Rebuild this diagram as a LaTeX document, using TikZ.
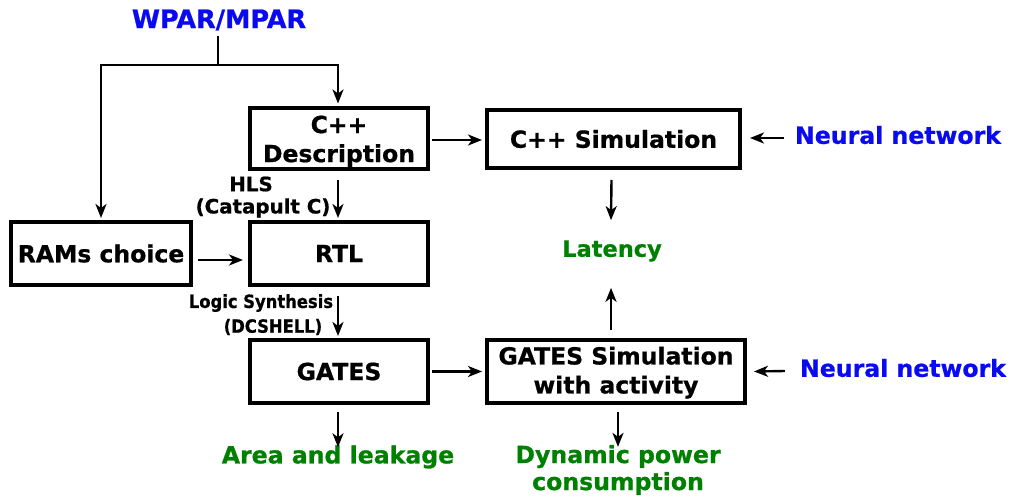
\documentclass[tikz,border=0pt]{standalone}
\usepackage{fontspec}
\setmainfont{DejaVu Sans}[BoldFeatures={FakeBold=0.8}]
\newfontfamily\condfont{DejaVu Sans Condensed}[BoldFeatures={FakeBold=0.8}]
\usetikzlibrary{arrows.meta,calc}
\definecolor{nnblue}{RGB}{10,10,240}
\definecolor{resgreen}{RGB}{0,128,0}
\begin{document}
\begin{tikzpicture}[x=1pt,y=-1pt,
  box/.style={draw,line width=4pt,align=center,inner sep=0pt,
    font=\bfseries\fontsize{23.5}{29}\selectfont},
  arr/.style={line width=2.4pt,-{Stealth[length=14pt,width=11pt,inset=4pt]}},
  inlab/.style={text=nnblue,font=\bfseries\fontsize{23.6}{29}\selectfont,inner sep=0pt},
  outlab/.style={text=resgreen,font=\bfseries\fontsize{23.6}{27}\selectfont,inner sep=0pt,align=center},
  steplab/.style={font=\bfseries\fontsize{19.8}{23}\selectfont,inner sep=0pt},
  condlab/.style={font=\condfont\bfseries\fontsize{18.2}{23}\selectfont,inner sep=0pt}]
\useasboundingbox (0,0) rectangle (1012,497);
% nodes
\node[inlab,font=\bfseries\fontsize{25.5}{29}\selectfont] (wpar) at (219,20) {WPAR/MPAR};
\node[box,minimum width=178pt,minimum height=61pt] (cdesc) at (339,139) {\rule{0pt}{22pt}C++\\Description};
\node[box,minimum width=253pt,minimum height=58pt] (csim) at (613.5,139) {C++ Simulation};
\node[inlab] (nn1) at (898,135) {Neural network};
\node[outlab,font=\bfseries\fontsize{22.5}{28}\selectfont] (lat) at (612,251) {Latency};
\node[box,minimum width=180pt,minimum height=63pt] (ram) at (101,253.5) {RAMs choice};
\node[box,minimum width=178pt,minimum height=63pt] (rtl) at (339,253.5) {RTL};
\node[box,minimum width=178pt,minimum height=63pt] (gates) at (339,371.5) {GATES};
\node[box,minimum width=258pt,minimum height=63pt] (gsim) at (616,371.5) {\rule{0pt}{20pt}GATES Simulation\\with activity};
\node[inlab] (nn2) at (903,368) {Neural network};
\node[outlab] (area) at (338,457) {Area and leakage};
\node[outlab] (dyn) at (618,470) {Dynamic power\\consumption};
\node[steplab] (hlsa) at (251,184) {HLS};
\node[steplab] (hlsb) at (263,208) {(Catapult C)};
\node[condlab] (lsa) at (261,303) {Logic Synthesis};
\node[condlab] (lsb) at (273,327) {(DCSHELL)};
% connectors
\coordinate (split) at (218,65);
\draw[line width=2.4pt] ($(wpar.south)+(-1,5)$) -- (split);
\draw[arr] (split) -| ($(ram.north)+(0,-2)$);
\draw[arr] (split) -| ($(cdesc.north)+(-1,-3)$);
\draw[arr] ($(cdesc.east)+(2,1)$) -- ($(csim.west)+(-3,1)$);
\draw[arr] ($(nn1.west)+(-11,3)$) -- ($(csim.east)+(8,-1)$);
\draw[arr] ($(csim.south)+(-2,10)$) -- ($(lat.north)+(-1,-20)$);
\draw[arr] ($(gsim.north)+(-5,-8)$) -- ($(lat.south)+(-1,26)$);
\draw[arr] ($(cdesc.south)+(-1,9)$) -- ($(rtl.north)+(-1,-2)$);
\draw[arr] ($(ram.east)+(5,6.5)$) -- ($(rtl.west)+(-5,6.5)$);
\draw[arr] ($(rtl.south)+(-1,9)$) -- ($(gates.north)+(-1,-2)$);
\draw[arr] ($(gates.east)+(2,0)$) -- ($(gsim.west)+(-3,0)$);
\draw[arr] ($(nn2.west)+(-15,3)$) -- ($(gsim.east)+(7,0)$);
\draw[arr] ($(gates.south)+(-1,7)$) -- ($(area.north)+(0,2)$);
\draw[arr] ($(gsim.south)+(2,7)$) -- ($(dyn.north)+(0,2)$);
\end{tikzpicture}
\end{document}
